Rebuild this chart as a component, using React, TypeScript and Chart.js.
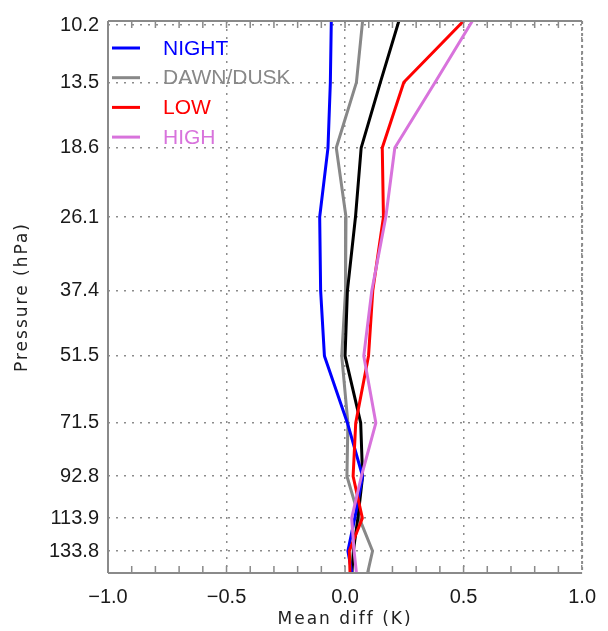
import { useEffect, useRef } from "react";
import { Chart, registerables } from "chart.js";

Chart.register(...registerables);

// Pressure levels (hPa) at which the profiles are sampled
const pressureLevels = [10.0, 13.5, 18.6, 26.1, 37.4, 51.5, 71.5, 92.8, 113.9, 133.8, 149.0];
// Mean differences (K) per category
const nightDiff = [-0.058, -0.062, -0.072, -0.107, -0.103, -0.087, 0.010, 0.074, 0.041, 0.012, 0.029];
const dawnDuskDiff = [0.074, 0.048, -0.037, 0.004, 0.002, -0.014, 0.012, 0.008, 0.060, 0.116, 0.095];
const allDiff = [0.227, 0.149, 0.068, 0.044, 0.010, 0.000, 0.066, 0.074, 0.054, 0.035, 0.029];
const lowDiff = [0.500, 0.248, 0.157, 0.162, 0.117, 0.099, 0.045, 0.034, 0.073, 0.018, 0.021];
const highDiff = [0.537, 0.380, 0.210, 0.172, 0.113, 0.079, 0.130, 0.069, 0.028, 0.038, 0.048];

const pressureTicks = [10.2, 13.5, 18.6, 26.1, 37.4, 51.5, 71.5, 92.8, 113.9, 133.8];
const diffTicks = [-1.0, -0.5, 0.0, 0.5, 1.0];
const legendLabels = ["NIGHT", "DAWN/DUSK", "LOW", "HIGH"];
const legendColors = ["#0000ff", "#888888", "#ff0000", "#d873dc"];

const TICK_FONT = "'Liberation Sans', Arial, sans-serif";
const TITLE_FONT = "'DejaVu Sans', sans-serif";

function fmtDiff(v: number) {
  const a = Math.abs(v).toFixed(1);
  return v < -1e-9 ? "\u2212" + a : a;
}

const framePlugin = {
  id: "frame",
  afterDatasetsDraw(chart: any) {
    const { ctx, chartArea } = chart;
    const { left, right, top, bottom } = chartArea;
    const xs = chart.scales.x;
    ctx.save();
    ctx.strokeStyle = "#8a8a8a";
    ctx.lineWidth = 2;
    ctx.beginPath();
    ctx.moveTo(left, top);
    ctx.lineTo(right, top);
    ctx.moveTo(left, bottom);
    ctx.lineTo(right, bottom);
    ctx.moveTo(left, top);
    ctx.lineTo(left, bottom);
    ctx.stroke();
    ctx.setLineDash([3, 3]);
    ctx.beginPath();
    ctx.moveTo(right, top);
    ctx.lineTo(right, bottom);
    ctx.stroke();
    ctx.setLineDash([]);
    ctx.lineWidth = 1.5;
    ctx.beginPath();
    for (let i = 1; i < 20; i++) {
      const px = xs.getPixelForValue(-1 + i * 0.1);
      ctx.moveTo(px, bottom);
      ctx.lineTo(px, bottom - 7);
      ctx.moveTo(px, top);
      ctx.lineTo(px, top + 7);
    }
    ctx.stroke();
    ctx.restore();
  },
  afterDraw(chart: any) {
    const { ctx, chartArea } = chart;
    const { left, right, top, bottom } = chartArea;
    ctx.save();
    // legend
    ctx.font = `21px ${TICK_FONT}`;
    ctx.textBaseline = "middle";
    ctx.textAlign = "left";
    legendLabels.forEach((lab, i) => {
      const y = top + 27 + i * 29.7;
      ctx.strokeStyle = legendColors[i];
      ctx.lineWidth = 3;
      ctx.beginPath();
      ctx.moveTo(left + 4, y);
      ctx.lineTo(left + 32, y);
      ctx.stroke();
      ctx.fillStyle = legendColors[i];
      ctx.fillText(lab, left + 55, y + 1);
    });
    // axis titles
    ctx.fillStyle = "#222222";
    ctx.font = `17px ${TITLE_FONT}`;
    (ctx as any).letterSpacing = "2px";
    ctx.textAlign = "center";
    ctx.fillText("Mean diff (K)", (left + right) / 2, 620);
    ctx.translate(23, (top + bottom) / 2);
    ctx.rotate(-Math.PI / 2);
    ctx.fillText("Pressure (hPa)", 0, 0);
    ctx.restore();
  },
};

export default function App() {
  const ref = useRef<HTMLCanvasElement | null>(null);

  useEffect(() => {
    if (!ref.current) return;
    const mk = (label: string, values: number[], color: string) => ({
      label,
      data: pressureLevels.map((p, i) => ({ x: values[i], y: p })),
      borderColor: color,
      backgroundColor: color,
      borderWidth: 3,
      pointRadius: 0,
      fill: false,
      tension: 0,
      borderJoinStyle: "round" as const,
    });
    const gridOpts = { color: "#8c8c8c", lineWidth: 1.5, drawTicks: false };
    const chart = new Chart(ref.current, {
      type: "line",
      data: {
        datasets: [
          mk("HIGH", highDiff, legendColors[3]),
          mk("LOW", lowDiff, legendColors[2]),
          mk("NIGHT", nightDiff, legendColors[0]),
          mk("ALL", allDiff, "#000000"),
          mk("DAWN/DUSK", dawnDuskDiff, legendColors[1]),
        ],
      },
      options: {
        responsive: false,
        animation: false,
        layout: { padding: { top: 15, right: 16, left: 0, bottom: 0 } },
        plugins: { legend: { display: false }, tooltip: { enabled: false } },
        scales: {
          x: {
            type: "linear",
            min: -1,
            max: 1,
            afterBuildTicks: (s: any) => {
              s.ticks = diffTicks.map((v) => ({ value: v }));
            },
            afterFit: (s: any) => {
              s.height = 58;
            },
            ticks: {
              callback: (v: any) => fmtDiff(Number(v)),
              font: { family: TICK_FONT, size: 20 },
              color: "#1a1a1a",
              padding: 12,
              maxRotation: 0,
              autoSkip: false,
            },
            grid: gridOpts,
            border: { display: false, dash: [2, 6] },
          },
          y: {
            type: "logarithmic",
            reverse: true,
            min: 10,
            max: 149,
            afterBuildTicks: (s: any) => {
              s.ticks = pressureTicks.map((v) => ({ value: v }));
            },
            afterFit: (s: any) => {
              s.width = 108;
            },
            ticks: {
              callback: (v: any) => Number(v).toFixed(1),
              font: { family: TICK_FONT, size: 20 },
              color: "#1a1a1a",
              padding: 9,
              autoSkip: false,
            },
            grid: gridOpts,
            border: { display: false, dash: [2, 6] },
          },
        },
      },
      plugins: [framePlugin],
    });
    return () => chart.destroy();
  }, []);

  return (
    <div style={{ position: "absolute", left: 0, top: 0, width: 608, height: 631, background: "#fff" }}>
      <canvas ref={ref} width={608} height={631} style={{ display: "block" }} />
    </div>
  );
}
